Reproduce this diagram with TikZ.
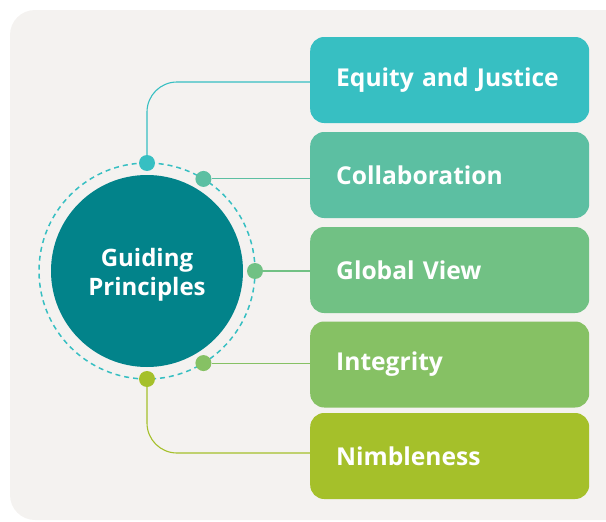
\documentclass[tikz,border=0pt]{standalone}
\usepackage{fontspec}
\setsansfont{Open Sans}
\begin{document}
\begin{tikzpicture}[x=1pt,y=-1pt,
  every node/.style={font=\sffamily\bfseries},
  box/.style={rounded corners=14pt, minimum height=86pt, text width=227pt, inner xsep=26pt, inner ysep=0pt, align=left, text=white, font=\sffamily\bfseries\fontsize{24.6}{28}\selectfont, anchor=west},
  dot/.style={circle, inner sep=0pt, minimum size=16pt},
  conn/.style={line width=1.1pt},
]
\definecolor{bg}{HTML}{F4F2F0}
\definecolor{cA}{HTML}{37BFC2}
\definecolor{cB}{HTML}{5CBFA2}
\definecolor{cC}{HTML}{71C184}
\definecolor{cD}{HTML}{86C164}
\definecolor{cE}{HTML}{A5C02A}
\definecolor{core}{HTML}{02838A}
\useasboundingbox (0,0) rectangle (606,522);
\clip (0,0) rectangle (606,522);
\fill[bg, rounded corners=25pt] (10,10) rectangle (640,520);
% boxes
\node[box, fill=cA] (b1) at (310,80) {\raisebox{-2pt}{Equity and Justice}};
\node[box, fill=cB] (b2) at (310,175) {\raisebox{-2pt}{Collaboration}};
\node[box, fill=cC] (b3) at (310,270) {\raisebox{-2pt}{Global View}};
\node[box, fill=cD] (b4) at (310,364.5) {\raisebox{-2pt}{Integrity}};
\node[box, fill=cE] (b5) at (310,456) {\raisebox{-2pt}{Nimbleness}};
% central circle
\node[circle, fill=core, minimum size=192pt, inner sep=0pt] (gp) at (147,271) {};
\node[text=white, align=center, font=\sffamily\bfseries\fontsize{24}{29}\selectfont] (gpt) at ([yshift=-4pt]gp.center) {Guiding\\Principles};
\draw[cA, line width=1.5pt, dash pattern=on 5pt off 4pt] (gp.center) circle[radius=108pt];
% dots
\node[dot, fill=cA] (d1) at ([shift={(-90:108)}]gp.center) {};
\node[dot, fill=cB] (d2) at ([shift={(-58.5:108)}]gp.center) {};
\node[dot, fill=cC] (d3) at ([shift={(0:108)}]gp.center) {};
\node[dot, fill=cD] (d4) at ([shift={(58.5:108)}]gp.center) {};
\node[dot, fill=cE] (d5) at ([shift={(90:108)}]gp.center) {};
% connectors
\draw[conn, cA, rounded corners=30pt] (d1) |- ([yshift=-2pt]b1.west);
\draw[conn, cB] (d2) -- (d2 -| b2.west);
\draw[conn, cC] (d3) -- (d3 -| b3.west);
\draw[conn, cD] (d4) -- (d4 -| b4.west);
\draw[conn, cE, rounded corners=30pt] (d5) |- ([yshift=3pt]b5.west);
\end{tikzpicture}
\end{document}
